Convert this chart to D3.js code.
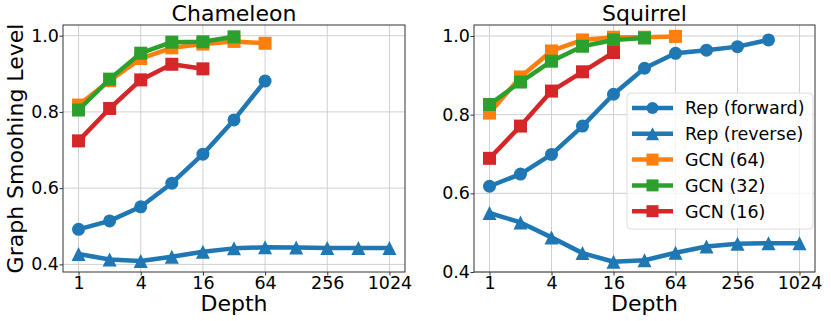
<!DOCTYPE html>
<html>
<head>
<meta charset="utf-8">
<script src="https://cdn.jsdelivr.net/npm/d3@7"></script>
<style>
  body { margin: 0; background: #fff; }
  svg { font-family: "DejaVu Sans", sans-serif; }
</style>
</head>
<body>
<svg id="chart" width="831" height="321"></svg>
<script>
const depths = [1, 2, 4, 8, 16, 32, 64, 128, 256, 512, 1024];
const xTicks = [1, 4, 16, 64, 256, 1024];
const yTicks = [0.4, 0.6, 0.8, 1.0];

const seriesNames = ["Rep (forward)", "Rep (reverse)", "GCN (64)", "GCN (32)", "GCN (16)"];
const seriesColors = ["#1f77b4", "#1f77b4", "#ff7f0e", "#2ca02c", "#d62728"];
const seriesMarkers = ["circle", "triangle", "square", "square", "square"];

// Chameleon
const chamForward = [0.492, 0.514, 0.551, 0.613, 0.689, 0.779, 0.881];
const chamReverse = [0.427, 0.413, 0.409, 0.42, 0.433, 0.442, 0.445, 0.444, 0.443, 0.443, 0.443];
const chamGcn64 = [0.818, 0.882, 0.94, 0.968, 0.978, 0.985, 0.98];
const chamGcn32 = [0.805, 0.886, 0.954, 0.983, 0.984, 0.997];
const chamGcn16 = [0.724, 0.809, 0.884, 0.925, 0.913];

// Squirrel
const sqForward = [0.618, 0.649, 0.699, 0.771, 0.852, 0.918, 0.956, 0.964, 0.973, 0.99];
const sqReverse = [0.55, 0.526, 0.488, 0.448, 0.426, 0.43, 0.449, 0.465, 0.472, 0.473, 0.473];
const sqGcn64 = [0.804, 0.896, 0.962, 0.99, 0.997, 0.997, 0.999];
const sqGcn32 = [0.826, 0.883, 0.936, 0.974, 0.99, 0.995];
const sqGcn16 = [0.689, 0.771, 0.86, 0.909, 0.958];

const panels = [
  { title: "Chameleon", left: 63, right: 405, top: 25, bottom: 272,
    yDomain: [0.38, 1.028], ylabel: "Graph Smoohing Level",
    series: [chamForward, chamReverse, chamGcn64, chamGcn32, chamGcn16], legend: false },
  { title: "Squirrel", left: 474, right: 815, top: 25, bottom: 272,
    yDomain: [0.4, 1.028], ylabel: null,
    series: [sqForward, sqReverse, sqGcn64, sqGcn32, sqGcn16], legend: true }
];

const svg = d3.select("#chart");

const drawMarker = (g, type, color, cx, cy, ms) => {
  if (type === "circle") {
    g.append("circle").attr("cx", cx).attr("cy", cy).attr("r", ms / 2).attr("fill", color);
  } else if (type === "square") {
    g.append("rect").attr("x", cx - ms / 2).attr("y", cy - ms / 2)
      .attr("width", ms).attr("height", ms).attr("fill", color);
  } else {
    const h = ms / 2 + 0.5;
    g.append("path")
      .attr("d", `M${cx},${cy - h}L${cx + h},${cy + h}L${cx - h},${cy + h}Z`)
      .attr("fill", color);
  }
};

panels.forEach(p => {
  const x = d3.scaleLog().base(2).domain([Math.pow(2, -0.5), Math.pow(2, 10.5)]).range([p.left, p.right]);
  const y = d3.scaleLinear().domain(p.yDomain).range([p.bottom, p.top]);
  const g = svg.append("g");

  // grid
  g.selectAll(".gx").data(xTicks).enter().append("line")
    .attr("x1", d => x(d)).attr("x2", d => x(d))
    .attr("y1", p.top).attr("y2", p.bottom)
    .attr("stroke", "#d0d0d0").attr("stroke-width", 1);
  g.selectAll(".gy").data(yTicks).enter().append("line")
    .attr("x1", p.left).attr("x2", p.right)
    .attr("y1", d => y(d)).attr("y2", d => y(d))
    .attr("stroke", "#d0d0d0").attr("stroke-width", 1);

  // axes
  const xAxis = d3.axisBottom(x).tickValues(xTicks).tickFormat(d3.format("d")).tickSize(3.5).tickPadding(1);
  const gx = g.append("g").attr("transform", `translate(0,${p.bottom})`).call(xAxis);
  const yAxis = d3.axisLeft(y).tickValues(yTicks).tickFormat(d3.format(".1f")).tickSize(3.5).tickPadding(0.5);
  const gy = g.append("g").attr("transform", `translate(${p.left},0)`).call(yAxis);
  [gx, gy].forEach(a => {
    a.select(".domain").remove();
    a.selectAll(".tick line").attr("stroke", "#333");
    a.selectAll(".tick text").attr("font-size", 17.5).attr("fill", "#000")
      .attr("font-family", "DejaVu Sans");
  });

  // lines and markers
  const line = d3.line().x((d, i) => x(depths[i])).y(d => y(d));
  p.series.forEach((vals, si) => {
    const sg = g.append("g");
    sg.append("path").attr("d", line(vals))
      .attr("fill", "none").attr("stroke", seriesColors[si])
      .attr("stroke-width", 4.5).attr("stroke-linejoin", "round");
    vals.forEach((v, i) => drawMarker(sg, seriesMarkers[si], seriesColors[si], x(depths[i]), y(v), 13));
  });

  // frame
  g.append("rect").attr("x", p.left).attr("y", p.top)
    .attr("width", p.right - p.left).attr("height", p.bottom - p.top)
    .attr("fill", "none").attr("stroke", "#333").attr("stroke-width", 1);

  // title and labels
  g.append("text").attr("x", (p.left + p.right) / 2).attr("y", 21)
    .attr("text-anchor", "middle").attr("font-size", 22).text(p.title);
  g.append("text").attr("x", (p.left + p.right) / 2).attr("y", 311)
    .attr("text-anchor", "middle").attr("font-size", 22).text("Depth");
  if (p.ylabel) {
    g.append("text")
      .attr("transform", `translate(23,${(p.top + p.bottom) / 2}) rotate(-90)`)
      .attr("text-anchor", "middle").attr("font-size", 22).text(p.ylabel);
  }

  if (p.legend) {
    const lg = g.append("g");
    lg.append("rect").attr("x", 627).attr("y", 93).attr("width", 186).attr("height", 136)
      .attr("rx", 4).attr("fill", "#fff").attr("fill-opacity", 0.8)
      .attr("stroke", "#dcdcdc").attr("stroke-width", 1);
    seriesNames.forEach((name, i) => {
      const ly = 108 + i * 25.8;
      lg.append("line").attr("x1", 632).attr("x2", 673).attr("y1", ly).attr("y2", ly)
        .attr("stroke", seriesColors[i]).attr("stroke-width", 4.5);
      drawMarker(lg, seriesMarkers[i], seriesColors[i], 652.5, ly, 12);
      lg.append("text").attr("x", 685).attr("y", ly + 6.3).attr("font-size", 17.5).text(name);
    });
  }
});
</script>
</body>
</html>
